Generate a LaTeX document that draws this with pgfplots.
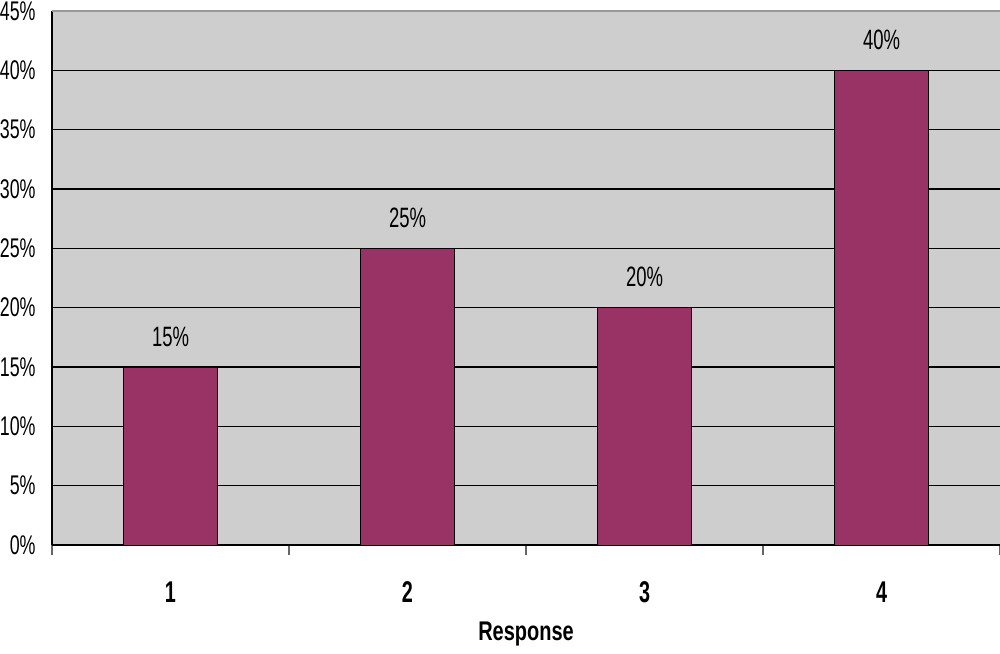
\documentclass[border=0pt]{standalone}
\usepackage{fontspec}
\setmainfont{Liberation Sans}[FakeStretch=0.66]
\newfontfamily\respfont{Liberation Sans}[FakeStretch=0.74]
\usepackage{pgfplots}
\pgfplotsset{compat=1.18}
\definecolor{barc}{RGB}{153,51,102}
\definecolor{bgc}{RGB}{206,206,206}
\begin{document}
\begin{tikzpicture}
\begin{axis}[
  name=ax,
  scale only axis,
  width=474pt, height=267pt,
  xmin=0.5, xmax=4.5,
  ymin=0, ymax=45,
  axis x line*=bottom,
  axis y line*=left,
  axis line style={black, line width=0.6pt},
  axis background/.style={fill=bgc},
  tick align=outside,
  major tick length=5pt,
  minor tick length=1.5pt,
  xtick={0.5,1.5,2.5,3.5,4.5},
  xticklabels={},
  xtick style={draw=black!60, line width=0.6pt},
  extra x ticks={1,2,3,4},
  extra x tick labels={\textbf{1},\textbf{2},\textbf{3},\textbf{4}},
  extra x tick style={major tick length=0pt, tick style={draw=none}, xticklabel style={font=\fontsize{15}{15}\selectfont\bfseries, anchor=base, inner sep=0pt, yshift=-28.5pt}},
  ytick={0,5,...,45},
  minor ytick={0,5,...,45},
  ytick style={draw=none},
  minor tick style={draw=black, line width=0.6pt},
  ymajorgrids,
  major grid style={black, line width=0.6pt},
  yticklabel={\pgfmathprintnumber{\tick}\%},
  /pgf/number format/assume math mode=true,
  yticklabel style={font=\fontsize{13.5}{13.5}\selectfont, anchor=east, inner sep=0pt, xshift=-3pt},
  xlabel={\respfont\bfseries Response},
  xlabel style={font=\fontsize{13.5}{13.5}\selectfont, at={(axis description cs:0.5,0)}, anchor=base, yshift=-47.5pt},
  ybar,
  bar width=0.4,
  nodes near coords={\pgfmathprintnumber{\pgfplotspointmeta}\%},
  nodes near coords style={font=\fontsize{14}{14}\selectfont, anchor=south, inner sep=0pt, yshift=10pt, /pgf/number format/assume math mode=true},
  clip=false,
]
\addplot[fill=barc, draw=black, line width=0.5pt] coordinates {(1,15) (2,25) (3,20) (4,40)};
\draw[black!40, line width=1.2pt] (rel axis cs:0,1) -- (rel axis cs:1,1);
\end{axis}
\pgfresetboundingbox
\path ([xshift=-26pt,yshift=-54pt]ax.south west) rectangle ([yshift=5.5pt]ax.north east);
\end{tikzpicture}
\end{document}
